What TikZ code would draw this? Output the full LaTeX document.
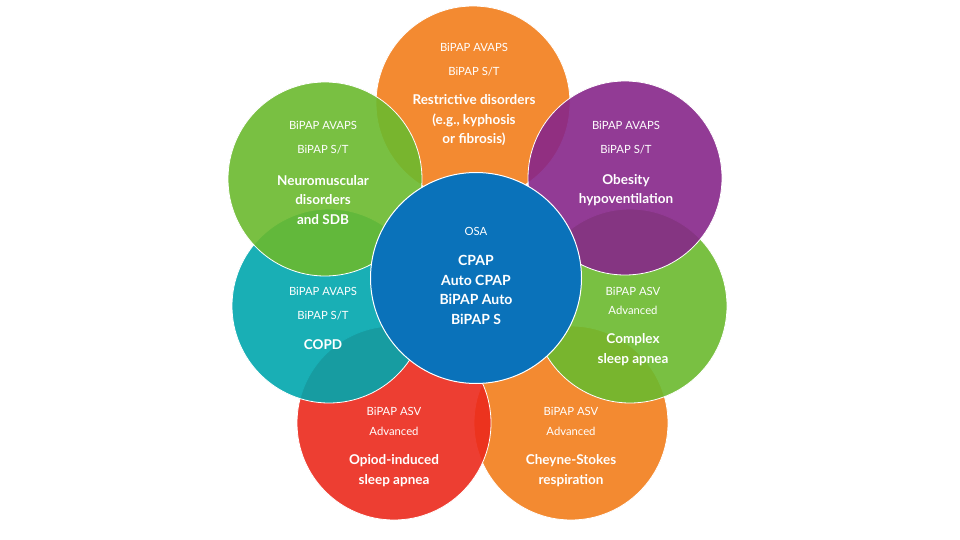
\documentclass[tikz,border=0pt]{standalone}
\usepackage{fontspec}
\setmainfont{Lato}
\definecolor{corange}{HTML}{F27E1B}
\definecolor{cgreen}{HTML}{6BBA2E}
\definecolor{cpurple}{HTML}{87268A}
\definecolor{cteal}{HTML}{00A7AE}
\definecolor{cred}{HTML}{EC2A1C}
\definecolor{cblue}{HTML}{0A72BA}
\begin{document}
\begin{tikzpicture}[x=1pt,y=-1pt,
  petal/.style={circle, draw=white, line width=0.8pt, fill opacity=0.9, minimum size=194pt, inner sep=0pt},
  hub/.style={circle, draw=white, line width=1pt, fill=cblue, minimum size=211pt, inner sep=0pt},
  txt/.style={text=white, font=\fontsize{11.3}{13}\selectfont, align=center, inner sep=0pt},
  btxt/.style={text=white, font=\fontsize{13.5}{19.5}\selectfont\bfseries, align=center, inner sep=0pt}]
\useasboundingbox (0,0) rectangle (960,540);
\fill[white] (0,0) rectangle (960,540);
% circles, bottom to top
\node[petal, fill=corange] (cs) at (571,423) {};
\node[petal, fill=cred] (op) at (394,423) {};
\node[petal, fill=cteal] (copd) at (329,306) {};
\node[petal, fill=cgreen] (cx) at (630,306) {};
\node[petal, fill=corange] (rd) at (473,103) {};
\node[petal, fill=cpurple] (ob) at (625,178) {};
\node[petal, fill=cgreen] (nm) at (325,179) {};
\node[hub] (osa) at (476,278) {};
% texts
\node[txt] (rd1) at (474,47) {BiPAP AVAPS};
\node[txt] (rd2) at (474,72) {BiPAP S/T};
\node[btxt] (rd3) at (474,120.5) {Restrictive disorders\\(e.g., kyphosis\\or fibrosis)};
\node[txt] (nm1) at (323,125) {BiPAP AVAPS};
\node[txt] (nm2) at (323,150) {BiPAP S/T};
\node[btxt] (nm3) at (323,200) {Neuromuscular\\disorders\\and SDB};
\node[txt] (ob1) at (626,125) {BiPAP AVAPS};
\node[txt] (ob2) at (626,150) {BiPAP S/T};
\node[btxt] (ob3) at (626,190) {Obesity\\hypoventilation};
\node[txt] (osa1) at (476,231) {OSA};
\node[btxt, font=\fontsize{14}{19.5}\selectfont\bfseries] (osa2) at (476,290) {CPAP\\Auto CPAP\\BiPAP Auto\\BiPAP S};
\node[txt] (copd1) at (323,291) {BiPAP AVAPS};
\node[txt] (copd2) at (323,316) {BiPAP S/T};
\node[btxt] (copd3) at (323,345) {COPD};
\node[txt] (cx1) at (633,291) {BiPAP ASV};
\node[txt] (cx2) at (633,310) {Advanced};
\node[btxt] (cx3) at (633,349.5) {Complex\\sleep apnea};
\node[txt] (op1) at (394,411) {BiPAP ASV};
\node[txt] (op2) at (394,431) {Advanced};
\node[btxt] (op3) at (394,470.5) {Opiod-induced\\sleep apnea};
\node[txt] (cs1) at (571,411) {BiPAP ASV};
\node[txt] (cs2) at (571,431) {Advanced};
\node[btxt] (cs3) at (571,470.5) {Cheyne-Stokes\\respiration};
\end{tikzpicture}
\end{document}
